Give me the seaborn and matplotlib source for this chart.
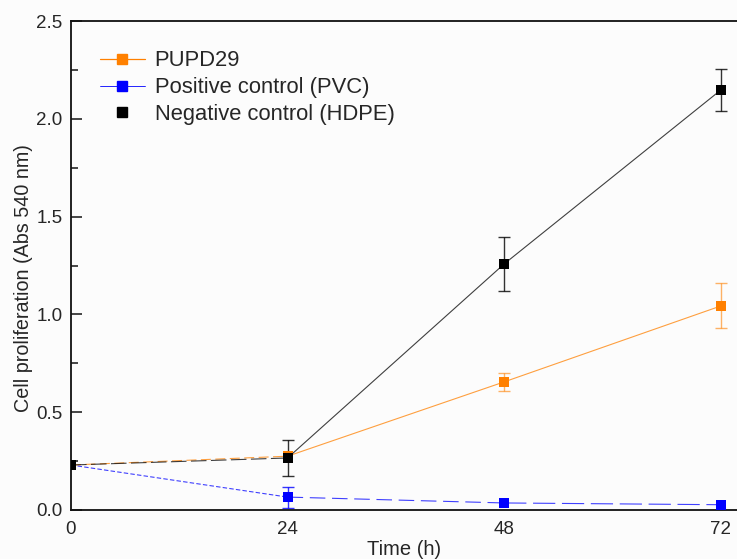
import matplotlib
matplotlib.use("Agg")
import matplotlib.pyplot as plt
from matplotlib.lines import Line2D
from matplotlib.ticker import MultipleLocator, FormatStrFormatter
import seaborn as sns
import pandas as pd

# Culture time points (h)
time_h = [0, 24, 48, 72]

# Absorbance at 540 nm (mean) and standard deviation
pupd29 = [0.23, 0.275, 0.655, 1.043]
pupd29_sd = [0.0, 0.0, 0.045, 0.115]

pvc = [0.23, 0.066, 0.036, 0.027]
pvc_sd = [0.0, 0.054, 0.0, 0.0]

hdpe = [0.23, 0.266, 1.258, 2.147]
hdpe_sd = [0.0, 0.09, 0.138, 0.107]

series_names = ["PUPD29", "Positive control (PVC)", "Negative control (HDPE)"]
colors = {"PUPD29": "#FF8000", "Positive control (PVC)": "#0000FF",
          "Negative control (HDPE)": "#000000"}

sns.set_theme(style="ticks")
plt.rcParams["font.family"] = ["Liberation Sans", "DejaVu Sans"]

df = pd.concat([
    pd.DataFrame({"time": time_h, "abs": pupd29, "sd": pupd29_sd, "series": "PUPD29"}),
    pd.DataFrame({"time": time_h, "abs": pvc, "sd": pvc_sd, "series": "Positive control (PVC)"}),
    pd.DataFrame({"time": time_h, "abs": hdpe, "sd": hdpe_sd, "series": "Negative control (HDPE)"}),
], ignore_index=True)

fig = plt.figure(figsize=(7.37, 5.59), dpi=100)
fig.patch.set_facecolor("#fcfcfc")
ax = fig.add_axes([71 / 737, 49 / 559, 666 / 737, (510 - 21) / 559])
ax.set_facecolor("#fcfcfc")

# segment styles: first interval dashed, later ones thin solid (PVC stays dashed longer)
seg_styles = {
    "PUPD29": [(0, (9, 4)), "-", "-"],
    "Positive control (PVC)": [(0, (4, 2)), (0, (14, 6)), (0, (20, 6))],
    "Negative control (HDPE)": [(0, (14, 4)), "-", "-"],
}
order = ["Positive control (PVC)", "PUPD29", "Negative control (HDPE)"]
for z, name in enumerate(order):
    sub = df[df.series == name].reset_index(drop=True)
    c = colors[name]
    for i in range(len(sub) - 1):
        seg = sub.iloc[i:i + 2]
        sns.lineplot(data=seg, x="time", y="abs", ax=ax, color=c, lw=0.8,
                     linestyle=seg_styles[name][i], alpha=0.75, zorder=2 + z,
                     legend=False)
    has_err = sub["sd"] > 0
    ax.errorbar(sub["time"][has_err], sub["abs"][has_err], yerr=sub["sd"][has_err],
                fmt="none", ecolor=c, elinewidth=1.0, capsize=4.5, capthick=1.0,
                alpha=0.6 if name == "PUPD29" else 0.8, zorder=2 + z)
    sns.scatterplot(data=sub, x="time", y="abs", ax=ax, color=c, marker="s",
                    s=48, edgecolor=c, linewidth=0, zorder=5 + z, legend=False)

ax.set_xlim(0, 73.8)
ax.set_ylim(0, 2.5)
ax.set_xticks(time_h)
ax.yaxis.set_major_locator(MultipleLocator(0.5))
ax.yaxis.set_minor_locator(MultipleLocator(0.25))
ax.yaxis.set_major_formatter(FormatStrFormatter("%.1f"))
ax.tick_params(axis="y", which="major", direction="in", length=8, width=1.2,
               labelsize=13.5, pad=6)
ax.tick_params(axis="y", which="minor", direction="in", length=5, width=1.2)
ax.tick_params(axis="x", which="both", length=0, labelsize=13.5, pad=8)
for s in ["left", "bottom", "top"]:
    ax.spines[s].set_linewidth(1.3)
    ax.spines[s].set_color("#111111")
ax.spines["right"].set_visible(False)

ax.set_xlabel("Time (h)", fontsize=14.5)
ax.xaxis.set_label_coords(0.5, -0.061)
ax.set_ylabel("Cell proliferation (Abs 540 nm)", fontsize=14.2)
ax.yaxis.set_label_coords(-0.057, 0.474)

handles = [
    Line2D([], [], color=colors["PUPD29"], lw=0.9, marker="s", markersize=7),
    Line2D([], [], color=colors["Positive control (PVC)"], lw=0.6, marker="s", markersize=7),
    Line2D([], [], color=colors["Negative control (HDPE)"], lw=0, marker="s", markersize=7),
]
ax.legend(handles, series_names, loc="upper left", bbox_to_anchor=(0.03, 0.958),
          frameon=False, fontsize=15.8, handlelength=2.05, handletextpad=0.45,
          labelspacing=0.27, borderaxespad=0)

fig.savefig("out.png", dpi=100, facecolor=fig.get_facecolor())
